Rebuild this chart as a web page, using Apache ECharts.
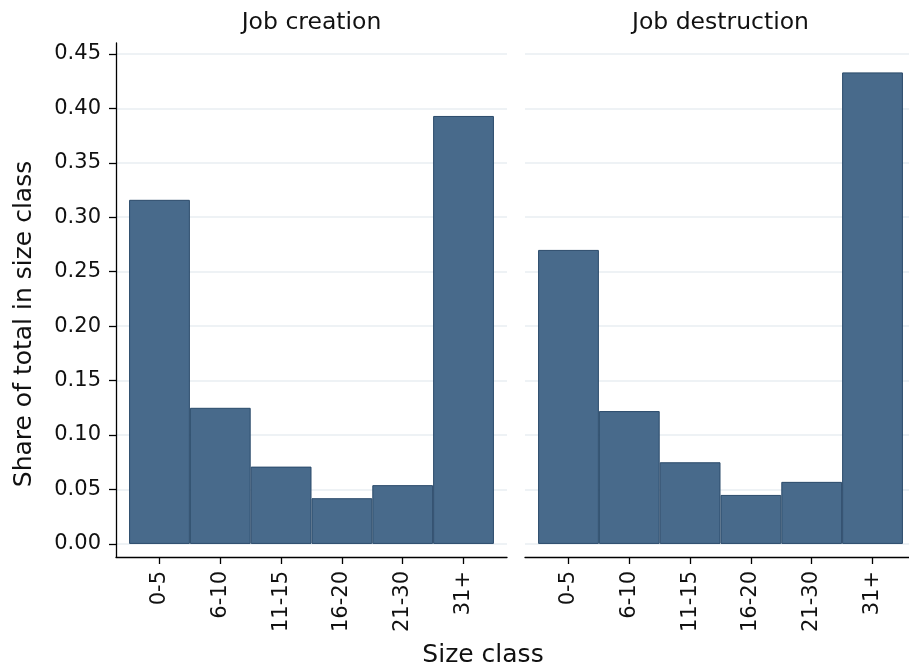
<!DOCTYPE html>
<html>
<head>
<meta charset="utf-8">
<script src="https://cdn.jsdelivr.net/npm/echarts@6/dist/echarts.min.js"></script>
<style>
  html, body { margin: 0; padding: 0; background: #ffffff; }
  #chart { width: 909px; height: 672px; }
</style>
</head>
<body>
<div id="chart"></div>
<script>
// Size classes (number of employees) shown on the x axis
const sizeClasses = ['0-5', '6-10', '11-15', '16-20', '21-30', '31+'];

// Share of total job creation / destruction falling in each size class
const jobCreation    = [0.316, 0.125, 0.071, 0.042, 0.054, 0.393];
const jobDestruction = [0.270, 0.122, 0.075, 0.045, 0.057, 0.433];

// Tick values for the share axis
const yTicks = [0.00, 0.05, 0.10, 0.15, 0.20, 0.25, 0.30, 0.35, 0.40, 0.45];

const panelTitles = ['Job creation', 'Job destruction'];
const yAxisTitle = 'Share of total in size class';
const xAxisTitle = 'Size class';

const FONT = '"DejaVu Sans", "Liberation Sans", sans-serif';
const TEXT = '#111111';
const BAR_FILL = '#486a8b';
const BAR_EDGE = '#2a4a6a';
const GRID_LINE = '#e9eef2';

const panelTop = 43, panelHeight = 514, panelWidth = 391;
const panelLefts = [116, 525];

const classIdx = sizeClasses.map((_, i) => i);

function xAxisFor(gridIndex) {
  return {
    type: 'value',
    gridIndex: gridIndex,
    min: -0.715,
    max: sizeClasses.length - 1 + 0.715,
    axisLine: { show: true, onZero: false, lineStyle: { color: '#000', width: 1.3 } },
    axisTick: { show: true, customValues: classIdx, length: 7, lineStyle: { color: '#000', width: 1.3 } },
    axisLabel: {
      customValues: classIdx,
      formatter: v => sizeClasses[Math.round(v)] || '',
      rotate: 90,
      margin: 14,
      fontFamily: FONT,
      fontSize: 21,
      color: TEXT
    },
    splitLine: { show: false }
  };
}

function yAxisFor(gridIndex, visible) {
  return {
    type: 'value',
    gridIndex: gridIndex,
    min: -0.012,
    max: 0.46,
    axisLine: { show: visible, onZero: false, lineStyle: { color: '#000', width: 1.3 } },
    axisTick: { show: visible, customValues: yTicks, length: 7, lineStyle: { color: '#000', width: 1.3 } },
    axisLabel: {
      show: visible,
      customValues: yTicks,
      formatter: v => v.toFixed(2),
      margin: 15,
      fontFamily: FONT,
      fontSize: 21,
      color: TEXT
    },
    splitLine: { show: false }
  };
}

// Horizontal reference lines, drawn beneath the bars
function gridLinesFor(gridIndex) {
  return {
    type: 'line',
    xAxisIndex: gridIndex,
    yAxisIndex: gridIndex,
    data: [],
    silent: true,
    z: 0,
    markLine: {
      z: 0,
      silent: true,
      symbol: ['none', 'none'],
      label: { show: false },
      lineStyle: { color: GRID_LINE, width: 1.5, type: 'solid' },
      emphasis: { disabled: true },
      data: yTicks.map(v => ({ yAxis: v }))
    }
  };
}

function barsFor(gridIndex, values) {
  return {
    type: 'bar',
    xAxisIndex: gridIndex,
    yAxisIndex: gridIndex,
    z: 10,
    barCategoryGap: '0%',
    barGap: '0%',
    data: values.map((v, i) => [i, v]),
    itemStyle: { color: BAR_FILL, borderColor: BAR_EDGE, borderWidth: 1 }
  };
}

const chart = echarts.init(document.getElementById('chart'), null, { renderer: 'canvas' });

chart.setOption({
  animation: false,
  backgroundColor: '#ffffff',
  grid: panelLefts.map(l => ({
    left: l, top: panelTop, width: panelWidth, height: panelHeight,
    containLabel: false,
    outerBoundsMode: 'none'
  })),
  xAxis: [xAxisFor(0), xAxisFor(1)],
  yAxis: [yAxisFor(0, true), yAxisFor(1, false)],
  series: [
    gridLinesFor(0),
    gridLinesFor(1),
    barsFor(0, jobCreation),
    barsFor(1, jobDestruction)
  ],
  graphic: [
    ...panelTitles.map((t, i) => ({
      type: 'text',
      x: panelLefts[i] + panelWidth / 2,
      y: 23,
      style: { text: t, font: '23.5px ' + FONT, fill: TEXT, textAlign: 'center', textVerticalAlign: 'middle' }
    })),
    {
      type: 'text',
      x: 24,
      y: 324,
      rotation: Math.PI / 2,
      style: { text: yAxisTitle, font: '25px ' + FONT, fill: TEXT, textAlign: 'center', textVerticalAlign: 'middle' }
    },
    {
      type: 'text',
      x: 483,
      y: 655,
      style: { text: xAxisTitle, font: '25px ' + FONT, fill: TEXT, textAlign: 'center', textVerticalAlign: 'middle' }
    }
  ]
});
</script>
</body>
</html>
